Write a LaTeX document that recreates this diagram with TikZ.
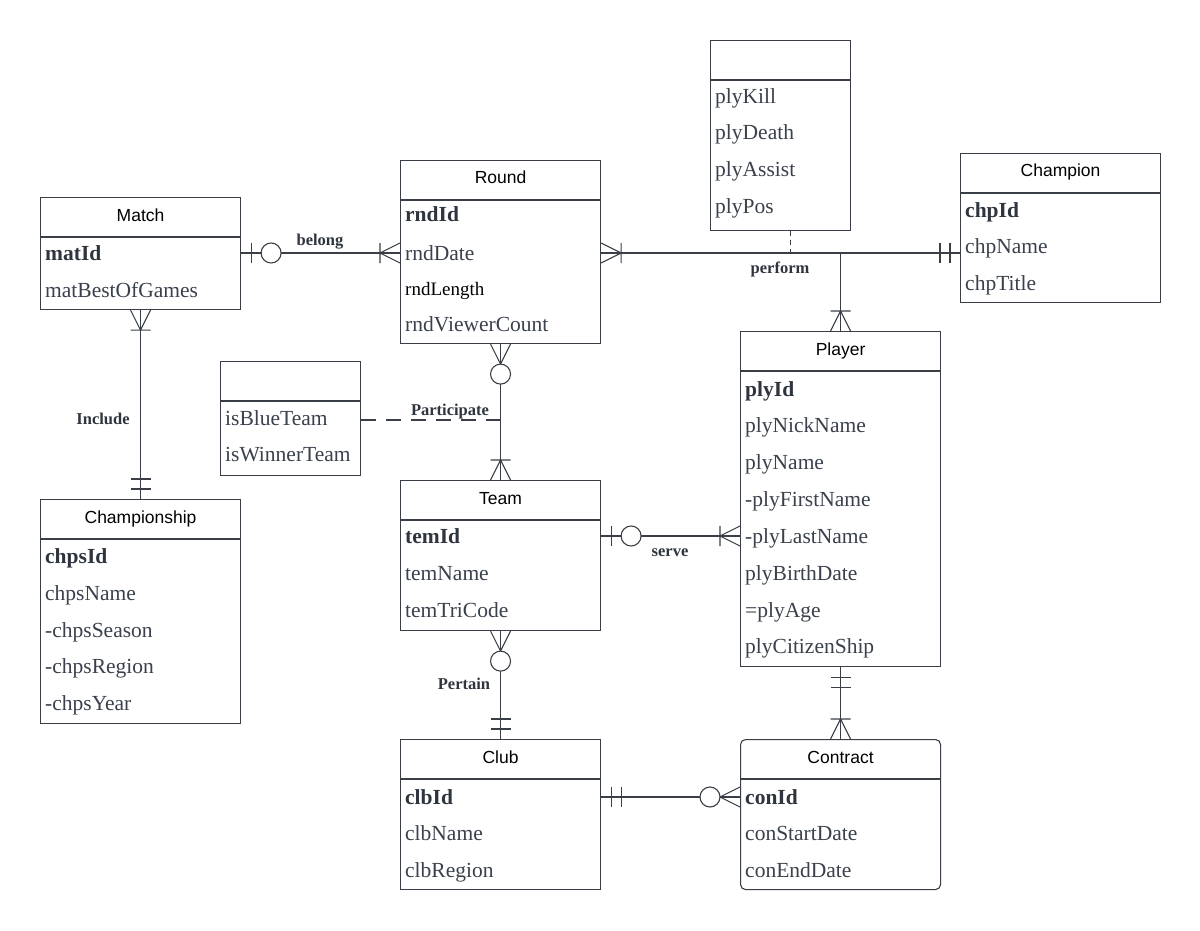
\documentclass[tikz,border=0pt]{standalone}
\usepackage{fontspec}
\newfontfamily\hdrfont{Liberation Sans}
\newfontfamily\attrfont{Liberation Serif}
\usetikzlibrary{calc}
\definecolor{ln}{HTML}{3A3F47}
\definecolor{tx}{HTML}{3A414C}
\definecolor{kx}{HTML}{2F353E}
\tikzset{
 ent/.style={draw=ln, line width=1.1pt, rectangle, inner sep=0pt, anchor=north west, fill=white},
 hd/.style={anchor=base, font=\hdrfont\fontsize{17.5}{20}\selectfont, text=black, inner sep=0pt},
 attrtxt/.style={anchor=base west, font=\attrfont\fontsize{21.5}{24}\selectfont, text=tx, inner sep=0pt},
 keytxt/.style={attrtxt, font=\attrfont\fontsize{21.5}{24}\selectfont\bfseries, text=kx},
 lbl/.style={anchor=base, font=\attrfont\fontsize{16.5}{18}\selectfont\bfseries, text=kx, inner sep=0pt},
 rel/.style={draw=ln, line width=1.1pt},
 sepl/.style={draw=ln, line width=1.1pt},
 dashl/.style={draw=ln, line width=1.1pt, dash pattern=on 15pt off 10pt},
 onemany/.pic={\draw[rel] (0,-10) -- (20,0) -- (0,10) (20,-10) -- (20,10);},
 zeromany/.pic={\draw[rel] (0,-10) -- (20,0) -- (0,10); \draw[rel, fill=white] (30,0) circle (10pt);},
 onlyone/.pic={\draw[rel] (10,-10) -- (10,10) (20,-10) -- (20,10);},
 zeroone/.pic={\draw[rel] (10,-10) -- (10,10); \draw[rel, fill=white] (30,0) circle (10pt);},
}
\begin{document}
\begin{tikzpicture}[x=1pt,y=-1pt]
\useasboundingbox (0,0) rectangle (1200,931);
\fill[white] (0,0) rectangle (1200,931);

% ---------- entity boxes ----------
\node[ent, minimum width=200pt, minimum height=112pt] (match) at (40,197) {};
\node[ent, minimum width=200pt, minimum height=183pt] (round) at (400,160) {};
\node[ent, minimum width=140pt, minimum height=190pt] (perfattr) at (710,40) {};
\node[ent, minimum width=200pt, minimum height=149pt] (champion) at (960,153) {};
\node[ent, minimum width=200pt, minimum height=335pt] (player) at (740,331) {};
\node[ent, minimum width=140pt, minimum height=114pt] (partattr) at (220,361) {};
\node[ent, minimum width=200pt, minimum height=150pt] (team) at (400,480) {};
\node[ent, minimum width=200pt, minimum height=224pt] (championship) at (40,499) {};
\node[ent, minimum width=200pt, minimum height=150pt] (club) at (400,739) {};
\node[ent, minimum width=200pt, minimum height=150pt, rounded corners=5pt] (contract) at (740,739) {};

% header separators
\foreach \b in {match,round,perfattr,champion,player,partattr,team,championship,club,contract}
  \draw[sepl] ([yshift=-40pt]\b.north west) -- ([yshift=-40pt]\b.north east);

% titles
\node[hd] (tmatch) at ([yshift=-24pt]match.north) {Match};
\node[hd] (tround) at ([yshift=-24pt]round.north) {Round};
\node[hd] (tchampion) at ([yshift=-24pt]champion.north) {Champion};
\node[hd] (tplayer) at ([yshift=-24pt]player.north) {Player};
\node[hd] (tteam) at ([yshift=-24pt]team.north) {Team};
\node[hd] (tchampionship) at ([yshift=-24pt]championship.north) {Championship};
\node[hd] (tclub) at ([yshift=-24pt]club.north) {Club};
\node[hd] (tcontract) at ([yshift=-24pt]contract.north) {Contract};

% attributes
\node[keytxt] (matid) at (45,260) {matId};
\node[attrtxt] (matbest) at (45,297) {matBestOfGames};

\node[keytxt] (rndid) at (405,222) {rndId};
\node[attrtxt] (rnddate) at (405,260) {rndDate};
\node[attrtxt, text=black, font=\attrfont\fontsize{19}{22}\selectfont] (rndlength) at (405,295) {rndLength};
\node[attrtxt] (rndviewer) at (405,331) {rndViewerCount};

\node[attrtxt] (plykill) at (715,104) {plyKill};
\node[attrtxt] (plydeath) at (715,140) {plyDeath};
\node[attrtxt] (plyassist) at (715,177) {plyAssist};
\node[attrtxt] (plypos) at (715,214) {plyPos};

\node[keytxt] (chpid) at (965,217) {chpId};
\node[attrtxt] (chpname) at (965,253) {chpName};
\node[attrtxt] (chptitle) at (965,290) {chpTitle};

\node[keytxt] (plyid) at (745,396) {plyId};
\node[attrtxt] (plynick) at (745,432) {plyNickName};
\node[attrtxt] (plyname) at (745,469) {plyName};
\node[attrtxt] (plyfirst) at (745,506) {-plyFirstName};
\node[attrtxt] (plylast) at (745,543) {-plyLastName};
\node[attrtxt] (plybirth) at (745,580) {plyBirthDate};
\node[attrtxt] (plyage) at (745,617) {=plyAge};
\node[attrtxt] (plycit) at (745,653) {plyCitizenShip};

\node[attrtxt] (isblue) at (225,425) {isBlueTeam};
\node[attrtxt] (iswinner) at (225,461) {isWinnerTeam};

\node[keytxt] (temid) at (405,543) {temId};
\node[attrtxt] (temname) at (405,580) {temName};
\node[attrtxt] (temtri) at (405,617) {temTriCode};

\node[keytxt] (chpsid) at (45,563) {chpsId};
\node[attrtxt] (chpsname) at (45,600) {chpsName};
\node[attrtxt] (chpsseason) at (45,637) {-chpsSeason};
\node[attrtxt] (chpsregion) at (45,673) {-chpsRegion};
\node[attrtxt] (chpsyear) at (45,710) {-chpsYear};

\node[keytxt] (clbid) at (405,804) {clbId};
\node[attrtxt] (clbname) at (405,840) {clbName};
\node[attrtxt] (clbregion) at (405,877) {clbRegion};

\node[keytxt] (conid) at (745,804) {conId};
\node[attrtxt] (constart) at (745,840) {conStartDate};
\node[attrtxt] (conend) at (745,877) {conEndDate};

% ---------- relationships ----------
% belong: Match - Round
\draw[rel] (match.east |- 0,253) -- (round.west |- 0,253);
\pic at (match.east |- 0,253) {zeroone};
\pic[rotate=180] at (round.west |- 0,253) {onemany};
\node[lbl] (lbelong) at (320,245) {belong};

% Include: Match - Championship
\draw[rel] (match.south) -- (championship.north);
\pic[rotate=-90] at (match.south) {onemany};
\pic[rotate=90] at (championship.north) {onlyone};
\node[lbl] (linclude) at (103,424) {Include};

% Participate: Round - Team
\draw[rel] (round.south) -- (team.north);
\pic[rotate=-90] at (round.south) {zeromany};
\pic[rotate=90] at (team.north) {onemany};
\coordinate (pmid) at (team.north |- 0,420);
\draw[dashl] (partattr.east |- pmid) -- (pmid);
\node[lbl] (lparticipate) at (450,415) {Participate};

% perform: Round - Champion - Player
\draw[rel] (round.east |- 0,253) -- (champion.west |- 0,253);
\coordinate (pj) at (player.north |- 0,253);
\draw[rel] (pj) -- (player.north);
\pic at (round.east |- 0,253) {onemany};
\pic[rotate=180] at (champion.west |- 0,253) {onlyone};
\pic[rotate=90] at (player.north) {onemany};
\coordinate (pd) at (perfattr.south |- 0,253);
\draw[rel, dash pattern=on 5pt off 4pt] ([xshift=10pt]perfattr.south) -- ([xshift=10pt]pd);
\node[lbl] (lperform) at (780,273) {perform};

% serve: Team - Player
\draw[rel] (team.east |- 0,536) -- (player.west |- 0,536);
\pic at (team.east |- 0,536) {zeroone};
\pic[rotate=180] at (player.west |- 0,536) {onemany};
\node[lbl] (lserve) at (670,556) {serve};

% Pertain: Team - Club
\draw[rel] (team.south) -- (club.north);
\pic[rotate=-90] at (team.south) {zeromany};
\pic[rotate=90] at (club.north) {onlyone};
\node[lbl] (lpertain) at (464,689) {Pertain};

% Club - Contract
\draw[rel] (club.east |- 0,797) -- (contract.west |- 0,797);
\pic at (club.east |- 0,797) {onlyone};
\pic[rotate=180] at (contract.west |- 0,797) {zeromany};

% Player - Contract
\draw[rel] (player.south) -- (contract.north);
\pic[rotate=-90] at (player.south) {onlyone};
\pic[rotate=90] at (contract.north) {onemany};
\end{tikzpicture}
\end{document}
